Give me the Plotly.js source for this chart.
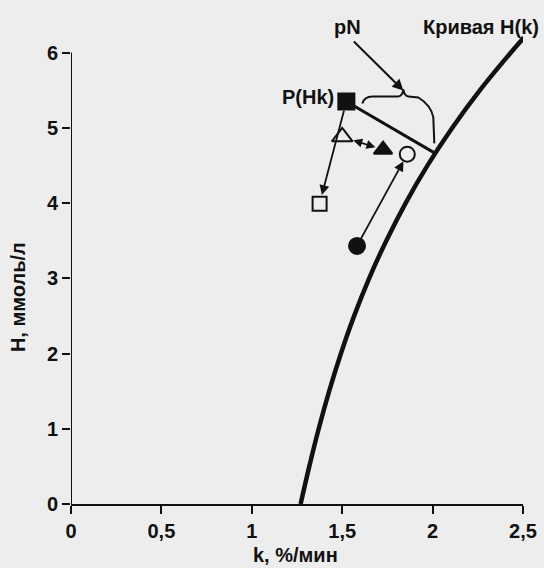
<!DOCTYPE html>
<html><head><meta charset="utf-8">
<script src="https://cdn.plot.ly/plotly-3.0.1.min.js"></script>
<style>html,body{margin:0;padding:0;background:#ededed}</style>
</head><body><div id="chart" style="width:544px;height:568px"></div>
<script>
// Curve H(k)
const curveH = [0, 0.5, 1.0, 1.5, 2.0, 2.5, 3.0, 3.5, 4.0, 4.5, 5.0, 5.5, 6.0, 6.2];
const curveK = [1.27, 1.318, 1.37, 1.428, 1.493, 1.566, 1.649, 1.744, 1.851, 1.972, 2.109, 2.262, 2.433, 2.505];
// Points: P(Hk), open triangle, filled triangle, open circle, open square, filled circle
const pointNames = ['P(Hk)', 'open-triangle', 'filled-triangle', 'open-circle', 'open-square', 'filled-circle'];
const pointK = [1.523, 1.50, 1.726, 1.86, 1.375, 1.582];
const pointH = [5.35, 4.88, 4.71, 4.65, 3.99, 3.43];
// End of pN segment on the curve
const pnEndK = [2.015];
const pnEndH = [4.66];
const xTickVals = [0, 0.5, 1, 1.5, 2, 2.5];
const xTickText = ['0', '0,5', '1', '1,5', '2', '2,5'];
const yTickVals = [0, 1, 2, 3, 4, 5, 6];
const yTickText = ['0', '1', '2', '3', '4', '5', '6'];

const W = 544, H = 568;
const M = {l: 71, r: 21, t: 30, b: 64};
const xR = [0, 2.5], yR = [0, 6.3];
const pw = W - M.l - M.r, ph = H - M.t - M.b;
function toData(px, py) {
  return [xR[0] + (px - M.l) / pw * (xR[1] - xR[0]), yR[0] + (H - M.b - py) / ph * (yR[1] - yR[0])];
}
function toPx(k, h) {
  return [M.l + (k - xR[0]) / (xR[1] - xR[0]) * pw, H - M.b - (h - yR[0]) / (yR[1] - yR[0]) * ph];
}
// brace above the pN segment, built in pixel offsets from the segment ends
const p0 = toPx(pointK[0], pointH[0]);
const p1 = toPx(pnEndK[0], pnEndH[0]);
function P(dx, dy) { const d = toData(p0[0] + dx, p0[1] + dy); return d[0] + ',' + d[1]; }
function Q(dx, dy) { const d = toData(p1[0] + dx, p1[1] + dy); return d[0] + ',' + d[1]; }
const bracePath = 'M' + P(16, 2) + ' Q' + P(18, -5) + ' ' + P(26, -5) +
  ' L' + P(52, -5) + ' Q' + P(56, -5) + ' ' + P(57, -12) +
  ' Q' + P(58, -5) + ' ' + P(62, -5) + ' L' + P(72, -4) +
  ' Q' + Q(-4, -48) + ' ' + Q(-2, -36) + ' L' + Q(-1, -10);
const braceTip = toData(p0[0] + 57, p0[1] - 11);
function paperY(py) { return (H - M.b - py) / ph; }

const black = '#111';
const traces = [
  {x: curveK, y: curveH, mode: 'lines', line: {color: black, width: 4.5, shape: 'spline'}, hoverinfo: 'skip'},
  {x: [pointK[0], pnEndK[0]], y: [pointH[0], pnEndH[0]], mode: 'lines', line: {color: black, width: 3}, hoverinfo: 'skip'},
  {x: pointK, y: pointH, text: pointNames, mode: 'markers', cliponaxis: false,
   marker: {symbol: ['square', 'triangle-up-open', 'triangle-up', 'circle-open', 'square-open', 'circle'],
            size: [16, 18, 16, 15, 14, 16], color: black, opacity: 1, line: {color: black, width: 2}}}
];

function arrow(x, y, ax, ay, extra) {
  return Object.assign({x: x, y: y, ax: ax, ay: ay, xref: 'x', yref: 'y', axref: 'x', ayref: 'y',
    text: '', showarrow: true, arrowhead: 2, arrowsize: 1.1, arrowwidth: 1.8, arrowcolor: black}, extra || {});
}
const fam = 'Liberation Sans, Arial, sans-serif';
const tf = {family: fam, size: 20, color: black, weight: 'bold'};
const pnTail = toData(p0[0] + 6, 40);
const annotations = [
  arrow(pointK[4], pointH[4], pointK[0], pointH[0], {standoff: 9, startstandoff: 8}),
  arrow(pointK[2], pointH[2], pointK[1], pointH[1], {arrowside: 'end+start', standoff: 8, startstandoff: 10, arrowsize: 1}),
  arrow(pointK[3], pointH[3], pointK[5], pointH[5], {standoff: 8}),
  arrow(braceTip[0], braceTip[1], pnTail[0], pnTail[1], {standoff: 0, arrowwidth: 2}),
  {x: toData(p0[0] + 1, 0)[0], y: paperY(27), xref: 'x', yref: 'paper', yanchor: 'middle', text: 'pN', showarrow: false, font: tf},
  {x: toData(481, 0)[0], y: paperY(27), xref: 'x', yref: 'paper', yanchor: 'middle', text: 'Кривая H(k)', showarrow: false, font: tf},
  {x: pointK[0], y: pointH[0], xref: 'x', yref: 'y', text: 'P(Hk)', showarrow: false, font: tf,
   xanchor: 'right', xshift: -10, yshift: 4},
  {x: -53 / pw, xref: 'paper', y: 2.75, yref: 'y', text: 'H, ммоль/л', textangle: -90, showarrow: false,
   xanchor: 'center', yanchor: 'middle', font: {family: fam, size: 20, color: black, weight: 'bold'}},
  {x: 1.24, xref: 'x', y: paperY(555), yref: 'paper', text: 'k, %/мин', showarrow: false,
   xanchor: 'center', yanchor: 'middle', font: {family: fam, size: 20, color: black, weight: 'bold'}}
];

const layout = {
  width: W, height: H, margin: M, showlegend: false,
  paper_bgcolor: '#ededed', plot_bgcolor: '#ededed',
  xaxis: {range: xR, tickvals: xTickVals, ticktext: xTickText, showgrid: false, zeroline: false,
          showline: true, linecolor: black, linewidth: 2, ticks: 'outside', ticklen: 8, tickwidth: 2,
          tickcolor: black, tickfont: {family: fam, size: 20, color: black, weight: 'bold'}},
  yaxis: {range: yR, tickvals: yTickVals, ticktext: yTickText, showgrid: false, zeroline: false,
          showline: false, ticks: 'outside', ticklen: 8, tickwidth: 2, tickcolor: black,
          tickfont: {family: fam, size: 20, color: black, weight: 'bold'}},
  shapes: [
    {type: 'line', xref: 'x', yref: 'y', x0: 0, y0: 0, x1: 0, y1: 6, line: {color: black, width: 2}},
    {type: 'path', xref: 'x', yref: 'y', path: bracePath, line: {color: black, width: 2}}
  ],
  annotations: annotations
};
Plotly.newPlot('chart', traces, layout, {displayModeBar: false, staticPlot: true});
</script></body></html>
